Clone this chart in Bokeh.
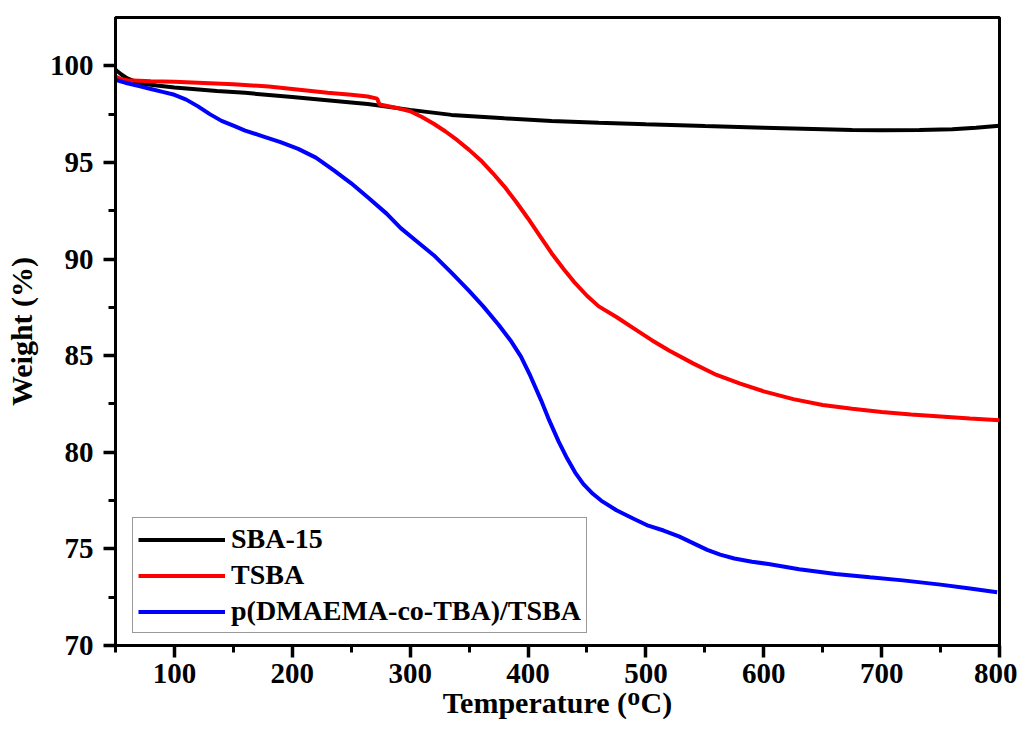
from bokeh.plotting import figure
from bokeh.models import Range1d, FixedTicker
from bokeh.embed import file_html
from bokeh.resources import INLINE

# ---- data ----
sba_T = [50, 55, 60, 70, 85, 100, 136, 160, 200, 250, 264, 300, 335, 380, 420, 460, 500,
         550, 600, 650, 675, 700, 732, 760, 780, 800]
sba_W = [99.8, 99.55, 99.35, 99.1, 98.98, 98.88, 98.7, 98.6, 98.38, 98.1, 98.02, 97.72, 97.46,
         97.28, 97.15, 97.05, 96.97, 96.88, 96.8, 96.72, 96.68, 96.66, 96.68, 96.72, 96.8, 96.9]

tsba_T = [50, 55, 60, 80, 100, 150, 180, 200, 230, 250, 264, 272, 274, 290, 300, 310, 320, 330,
          340, 350, 360, 370, 380, 390, 400, 410, 420, 430, 440, 450, 460, 475, 490, 505, 520,
          540, 560, 580, 600, 625, 650, 675, 700, 725, 750, 775, 800]
tsba_W = [99.45, 99.3, 99.25, 99.2, 99.18, 99.05, 98.93, 98.8, 98.6, 98.5, 98.41, 98.3, 98.0,
          97.8, 97.65, 97.35, 97.0, 96.6, 96.15, 95.65, 95.1, 94.45, 93.75, 92.95, 92.1, 91.2,
          90.3, 89.5, 88.75, 88.1, 87.55, 87.0, 86.4, 85.8, 85.25, 84.6, 84.0, 83.55, 83.15,
          82.75, 82.45, 82.25, 82.08, 81.95, 81.85, 81.75, 81.66]

copo_T = [50, 60, 70, 80, 90, 100, 110, 120, 130, 140, 150, 160, 175, 190, 205, 220, 235, 250,
          265, 280, 292, 305, 320, 335, 350, 362, 375, 385, 394, 402, 411, 418, 426, 433, 440,
          447, 455, 462, 475, 490, 502, 515, 528, 540, 552, 563, 575, 590, 604, 630, 661, 690,
          718, 750, 775, 798]
copo_W = [99.27, 99.1, 98.95, 98.8, 98.65, 98.5, 98.25, 97.9, 97.5, 97.15, 96.9, 96.65, 96.35,
          96.05, 95.7, 95.25, 94.6, 93.92, 93.15, 92.35, 91.6, 90.95, 90.2, 89.3, 88.35, 87.55,
          86.6, 85.8, 84.95, 83.95, 82.7, 81.65, 80.55, 79.7, 78.95, 78.35, 77.85, 77.5, 77.0,
          76.55, 76.2, 75.95, 75.65, 75.3, 74.95, 74.7, 74.5, 74.33, 74.22, 73.95, 73.7, 73.53,
          73.37, 73.15, 72.95, 72.76]

series_names = ["SBA-15", "TSBA", "p(DMAEMA-co-TBA)/TSBA"]
series_colors = ["#000000", "#ff0000", "#0000ff"]

x_ticks = [100, 200, 300, 400, 500, 600, 700, 800]
x_minor = [50, 150, 250, 350, 450, 550, 650, 750]
y_ticks = [70, 75, 80, 85, 90, 95, 100]
y_minor = [72.5, 77.5, 82.5, 87.5, 92.5, 97.5]

FONT = "Liberation Serif"

p = figure(width=1017, height=721, x_range=Range1d(50, 800), y_range=Range1d(70, 102.5),
           output_backend="svg", toolbar_location=None,
           min_border_left=115, min_border_right=18, min_border_top=17, min_border_bottom=76)

for T, W, name, col in zip([sba_T, tsba_T, copo_T], [sba_W, tsba_W, copo_W],
                           series_names, series_colors):
    p.line(T, W, line_color=col, line_width=4, legend_label=name)

p.grid.visible = False
p.outline_line_color = "black"
p.outline_line_width = 3
p.background_fill_color = "white"
p.border_fill_color = "white"

p.xaxis.ticker = FixedTicker(ticks=x_ticks, minor_ticks=x_minor)
p.yaxis.ticker = FixedTicker(ticks=y_ticks, minor_ticks=y_minor)

for ax in [p.xaxis[0], p.yaxis[0]]:
    ax.axis_line_width = 3
    ax.axis_line_color = "black"
    ax.major_tick_line_color = "black"
    ax.minor_tick_line_color = "black"
    ax.major_tick_line_width = 3.5
    ax.minor_tick_line_width = 3
    ax.major_tick_in = 0
    ax.major_tick_out = 12
    ax.minor_tick_in = 0
    ax.minor_tick_out = 7
    ax.major_label_text_font = FONT
    ax.major_label_text_font_style = "bold"
    ax.major_label_text_font_size = "29px"
    ax.major_label_text_color = "black"
    ax.axis_label_text_font = FONT
    ax.axis_label_text_font_style = "bold"
    ax.axis_label_text_font_size = "30px"
    ax.axis_label_text_color = "black"

p.xaxis.major_label_standoff = 6
p.xaxis.axis_label_standoff = 0
p.yaxis.major_label_standoff = 10
p.yaxis.axis_label_standoff = 9
p.xaxis.axis_label = "Temperature (\u1D3CC)"
p.yaxis.axis_label = "Weight (%)"

lg = p.legend[0]
lg.location = (17, 12)
lg.label_text_font = FONT
lg.label_text_font_style = "bold"
lg.label_text_font_size = "28px"
lg.label_text_color = "black"
lg.glyph_width = 87
lg.glyph_height = 27
lg.label_height = 27
lg.spacing = 4
lg.padding = 5
lg.margin = 0
lg.label_standoff = 6
lg.border_line_color = "#333333"
lg.border_line_width = 1.5
lg.background_fill_color = "white"
lg.background_fill_alpha = 1

open("out.html", "w").write(file_html(p, INLINE))
